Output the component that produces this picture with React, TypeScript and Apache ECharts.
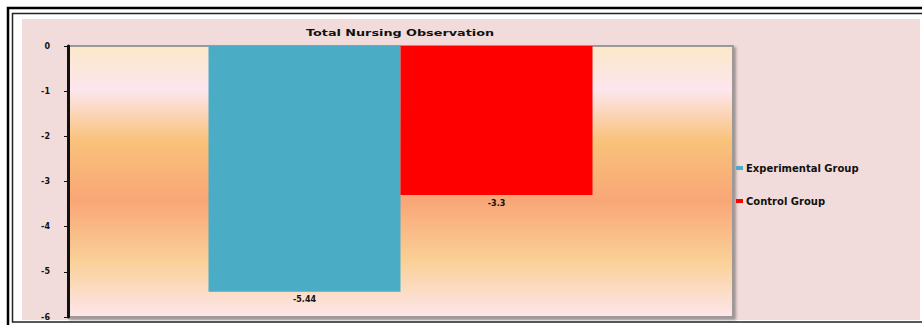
import React, { useEffect, useRef } from "react";
import * as echarts from "echarts";

const categories = [""];
const seriesNames = ["Experimental Group", "Control Group"];
const experimentalValues = [-5.44];
const controlValues = [-3.3];
const seriesColors = ["#4BACC6", "#FF0000"];
const titleText = "Total Nursing Observation";

export default function App() {
  const ref = useRef<HTMLDivElement>(null);
  useEffect(() => {
    document.body.style.margin = "0";
    const chart = echarts.init(ref.current!, null, { renderer: "svg" });
    const font = "DejaVu Sans";
    chart.setOption({
      animation: false,
      backgroundColor: "#FFFFFF",
      graphic: [
        { type: "rect", z: -10, silent: true, shape: { x: 8, y: 8, width: 940, height: 340 }, style: { fill: "none", stroke: "#000", lineWidth: 2.5 } },
        { type: "rect", z: -10, silent: true, shape: { x: 12.5, y: 13.5, width: 940, height: 308.5 }, style: { fill: "none", stroke: "#222", lineWidth: 1.5 } },
        { type: "rect", z: -9, silent: true, shape: { x: 22, y: 19, width: 898, height: 301 }, style: { fill: "#F2DCDB" } },
        {
          type: "text",
          x: 400,
          y: 33,
          scaleX: 1.6,
          silent: true,
          style: { text: titleText, fontFamily: font, fontWeight: "bold", fontSize: 8, fill: "#111", align: "center", verticalAlign: "middle" },
        },
      ],
      legend: {
        orient: "vertical",
        left: 731,
        top: 158,
        itemWidth: 7,
        itemHeight: 4,
        itemGap: 23,
        itemStyle: { borderWidth: 0 },
        icon: "rect",
        data: seriesNames,
        textStyle: { fontFamily: font, fontWeight: "bold", fontSize: 10, color: "#111", padding: [0, 0, 0, -2] },
      },
      grid: {
        left: 68,
        right: 189,
        top: 46,
        bottom: 8,
        show: true,
        borderColor: "#9A9A9A",
        borderWidth: 2,
        shadowColor: "rgba(0,0,0,0.35)",
        shadowBlur: 3,
        shadowOffsetX: 2,
        shadowOffsetY: 2,
        backgroundColor: {
          type: "linear",
          x: 0, y: 0, x2: 0, y2: 1,
          colorStops: [
            { offset: 0, color: "#FBE8C8" },
            { offset: 0.16, color: "#FDE6EE" },
            { offset: 0.35, color: "#F9C27A" },
            { offset: 0.57, color: "#F9A676" },
            { offset: 0.8, color: "#FAD199" },
            { offset: 1, color: "#FDE6EC" },
          ],
        },
      },
      xAxis: {
        type: "category",
        data: categories,
        axisLine: { show: false },
        axisTick: { show: false },
        axisLabel: { show: false },
      },
      yAxis: {
        type: "value",
        min: -6,
        max: 0,
        interval: 1,
        splitLine: { show: false },
        axisLine: { show: true, lineStyle: { color: "#111", width: 3 } },
        axisTick: { show: true, length: 4, lineStyle: { color: "#111", width: 1 } },
        axisLabel: { fontFamily: font, fontWeight: "bold", fontSize: 8, color: "#111", margin: 18 },
      },
      series: [
        {
          name: seriesNames[0],
          type: "bar",
          data: experimentalValues,
          barWidth: 192,
          barGap: "0%",
          itemStyle: { color: seriesColors[0] },
          label: { show: true, position: "bottom", distance: 4, formatter: "{c}", fontFamily: font, fontWeight: "bold", fontSize: 8, color: "#111" },
        },
        {
          name: seriesNames[1],
          type: "bar",
          data: controlValues,
          barWidth: 192,
          barGap: "0%",
          itemStyle: { color: seriesColors[1] },
          label: { show: true, position: "bottom", distance: 4, formatter: "{c}", fontFamily: font, fontWeight: "bold", fontSize: 8, color: "#111" },
        },
      ],
    });
    return () => chart.dispose();
  }, []);
  return <div ref={ref} style={{ width: 922, height: 325 }} />;
}
